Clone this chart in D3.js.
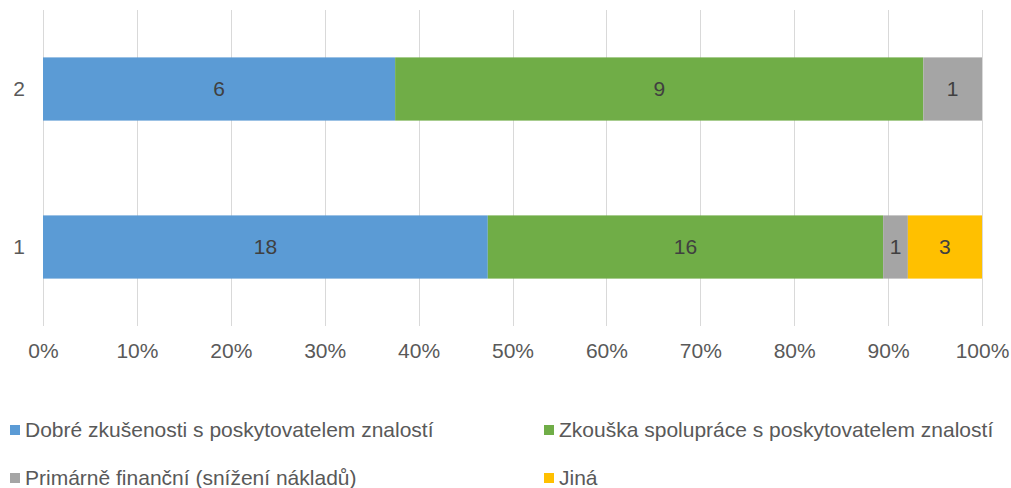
<!DOCTYPE html>
<html>
<head>
<meta charset="utf-8">
<script src="https://cdn.jsdelivr.net/npm/d3@7"></script>
<style>
  body { margin: 0; background: #fff; }
  text { font-family: "Liberation Sans", Arial, sans-serif; fill: #595959; }
</style>
</head>
<body>
<div id="chart"></div>
<script>
var categories = ["2", "1"];
var seriesNames = [
  "Dobré zkušenosti s poskytovatelem znalostí",
  "Zkouška spolupráce s poskytovatelem znalostí",
  "Primárně finanční (snížení nákladů)",
  "Jiná"
];
var seriesColors = ["#5B9BD5", "#70AD47", "#A5A5A5", "#FFC000"];
// values per category, in series order
var values2 = [6, 9, 1, 0];
var values1 = [18, 16, 1, 3];
var tickLabels = ["0%", "10%", "20%", "30%", "40%", "50%", "60%", "70%", "80%", "90%", "100%"];

var W = 1011, H = 488;
var margin = { top: 10, right: 29, bottom: 162, left: 43 };
var width = W - margin.left - margin.right;
var height = H - margin.top - margin.bottom;
var fs = "21px";

var svg = d3.select("#chart").append("svg")
  .attr("width", W).attr("height", H);
var g = svg.append("g")
  .attr("transform", "translate(" + margin.left + "," + margin.top + ")");

var x = d3.scaleLinear().domain([0, 1]).range([0, width]);
var y = d3.scaleBand().domain(categories).range([0, height])
  .paddingInner(0.6).paddingOuter(0.3);

// gridlines
g.selectAll(".grid")
  .data(d3.range(0, 1.0001, 0.1))
  .enter().append("line")
  .attr("x1", function (d) { return Math.round(x(d)) + 0.5; })
  .attr("x2", function (d) { return Math.round(x(d)) + 0.5; })
  .attr("y1", 0).attr("y2", height)
  .attr("stroke", "#d9d9d9").attr("stroke-width", 1);

// stack data
var rows = [
  { cat: "2", vals: values2 },
  { cat: "1", vals: values1 }
];
var segs = [];
rows.forEach(function (r) {
  var total = d3.sum(r.vals), acc = 0;
  r.vals.forEach(function (v, i) {
    if (v > 0) segs.push({ cat: r.cat, i: i, v: v, x0: acc / total, x1: (acc + v) / total });
    acc += v;
  });
});

g.selectAll(".seg").data(segs).enter().append("rect")
  .attr("x", function (d) { return x(d.x0); })
  .attr("width", function (d) { return x(d.x1) - x(d.x0); })
  .attr("y", function (d) { return y(d.cat); })
  .attr("height", y.bandwidth())
  .attr("fill", function (d) { return seriesColors[d.i]; });

g.selectAll(".lbl").data(segs).enter().append("text")
  .attr("x", function (d) { return (x(d.x0) + x(d.x1)) / 2; })
  .attr("y", function (d) { return y(d.cat) + y.bandwidth() / 2; })
  .attr("dy", "0.35em")
  .attr("text-anchor", "middle")
  .style("font-size", fs)
  .style("fill", "#404040")
  .text(function (d) { return d.v; });

// x axis
var xAxis = g.append("g")
  .attr("transform", "translate(0," + height + ")")
  .call(d3.axisBottom(x).tickValues(d3.range(0, 1.0001, 0.1))
    .tickFormat(function (d, i) { return tickLabels[i]; })
    .tickSize(0).tickPadding(17));
xAxis.select(".domain").remove();
xAxis.selectAll("text").style("font-size", fs).style("fill", "#595959")
  .attr("font-family", null);

// y axis
var yAxis = g.append("g")
  .call(d3.axisLeft(y).tickSize(0).tickPadding(18));
yAxis.select(".domain").remove();
yAxis.selectAll("text").style("font-size", fs).style("fill", "#595959")
  .attr("font-family", null);

// legend
var legendPos = [
  { x: 10, y: 430 }, { x: 544, y: 430 },
  { x: 10, y: 478 }, { x: 544, y: 478 }
];
var leg = svg.selectAll(".leg").data(seriesNames).enter().append("g")
  .attr("transform", function (d, i) {
    return "translate(" + legendPos[i].x + "," + legendPos[i].y + ")";
  });
leg.append("rect")
  .attr("x", 0).attr("y", -5).attr("width", 10).attr("height", 10)
  .attr("fill", function (d, i) { return seriesColors[i]; });
leg.append("text")
  .attr("x", 15).attr("dy", "0.35em")
  .style("font-size", fs)
  .text(function (d) { return d; });
</script>
</body>
</html>
